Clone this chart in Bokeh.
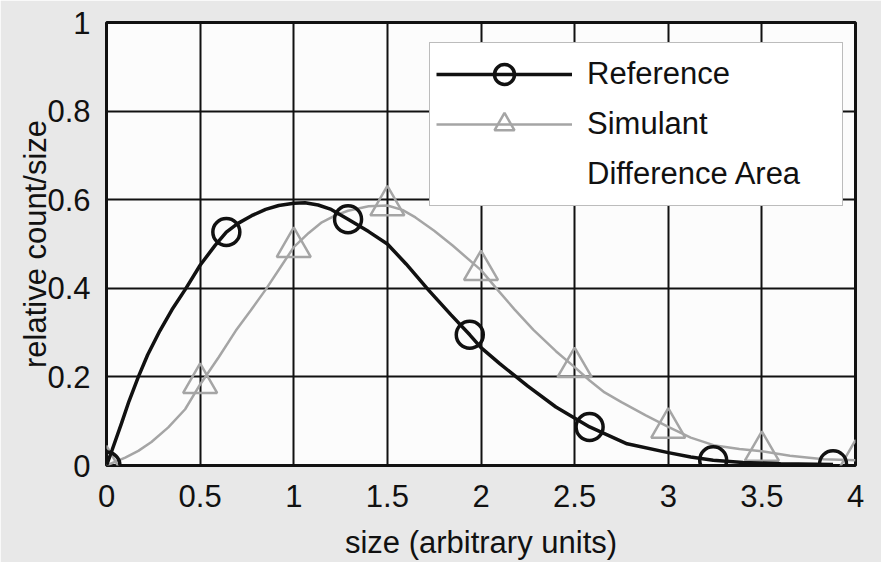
from bokeh.plotting import figure
from bokeh.models import FixedTicker, Legend, LegendItem, Range1d
from bokeh.embed import file_html
from bokeh.resources import INLINE

# ---- data ----
ref_curve_x = [0, 0.03, 0.08, 0.12, 0.17, 0.22, 0.285, 0.35, 0.42, 0.5, 0.58, 0.64, 0.7,
               0.775, 0.85, 0.92, 1.0, 1.06, 1.13, 1.2, 1.29, 1.4, 1.5, 1.6, 1.72, 1.84,
               1.94, 2.0, 2.1, 2.25, 2.4, 2.58, 2.78, 3.0, 3.12, 3.24, 3.4, 3.6, 3.88]
ref_curve_y = [0, 0.035, 0.095, 0.145, 0.2, 0.25, 0.304, 0.352, 0.397, 0.452, 0.497, 0.527,
               0.546, 0.564, 0.578, 0.587, 0.592, 0.593, 0.588, 0.578, 0.556, 0.528, 0.5,
               0.455, 0.396, 0.34, 0.295, 0.266, 0.23, 0.179, 0.132, 0.087, 0.049, 0.029,
               0.019, 0.012, 0.007, 0.004, 0.002]
ref_mark_x = [0, 0.64, 1.29, 1.94, 2.58, 3.24, 3.88]
ref_mark_y = [0, 0.527, 0.556, 0.295, 0.087, 0.012, 0.003]

sim_curve_x = [0, 0.1, 0.17, 0.24, 0.33, 0.42, 0.5, 0.6, 0.69, 0.77, 0.85, 0.93, 1.0, 1.08,
               1.15, 1.22, 1.29, 1.4, 1.5, 1.58, 1.65, 1.75, 1.85, 2.0, 2.09, 2.18, 2.28,
               2.4, 2.5, 2.58, 2.66, 2.75, 2.88, 3.0, 3.12, 3.25, 3.38, 3.5, 3.65, 3.83, 4.0]
sim_curve_y = [0, 0.018, 0.033, 0.053, 0.086, 0.127, 0.183, 0.245, 0.304, 0.35, 0.397, 0.448,
               0.493, 0.525, 0.549, 0.564, 0.575, 0.585, 0.587, 0.577, 0.56, 0.53, 0.496,
               0.441, 0.396, 0.352, 0.306, 0.258, 0.222, 0.192, 0.165, 0.143, 0.113, 0.087,
               0.063, 0.045, 0.037, 0.032, 0.022, 0.014, 0.012]
sim_mark_x = [0, 0.5, 1.0, 1.5, 2.0, 2.5, 3.0, 3.5, 4.0]
sim_mark_y = [0, 0.186, 0.493, 0.587, 0.441, 0.222, 0.085, 0.033, 0.013]

x_ticks = [0, 0.5, 1, 1.5, 2, 2.5, 3, 3.5, 4]
x_tick_labels = ["0", "0.5", "1", "1.5", "2", "2.5", "3", "3.5", "4"]
y_ticks = [0, 0.2, 0.4, 0.6, 0.8, 1]
y_tick_labels = ["0", "0.2", "0.4", "0.6", "0.8", "1"]

series_names = ["Reference", "Simulant", "Difference Area"]
x_title = "size (arbitrary units)"
y_title = "relative count/size"

FONT = "Liberation Sans"
FSIZE = "31px"
BLACK = "#111111"
GRAY = "#a5a5a5"

p = figure(width=881, height=562, output_backend="svg", toolbar_location=None,
           x_range=Range1d(0, 4), y_range=Range1d(0, 1),
           min_border_left=106, min_border_right=26, min_border_top=22, min_border_bottom=95)
p.border_fill_color = "#e8e8e8"
p.background_fill_color = "#fcfcfc"
p.outline_line_color = BLACK
p.outline_line_width = 3
p.outline_line_alpha = 1

# grid
p.xgrid.ticker = FixedTicker(ticks=x_ticks)
p.ygrid.ticker = FixedTicker(ticks=y_ticks)
for g in (p.xgrid, p.ygrid):
    g.grid_line_color = BLACK
    g.grid_line_width = 2
    g.grid_line_alpha = 1

# axes
p.xaxis.ticker = FixedTicker(ticks=x_ticks)
p.yaxis.ticker = FixedTicker(ticks=y_ticks)
p.xaxis.major_label_overrides = {t: l for t, l in zip(x_ticks, x_tick_labels)}
p.yaxis.major_label_overrides = {t: l for t, l in zip(y_ticks, y_tick_labels)}
p.xaxis.axis_label = x_title
p.yaxis.axis_label = y_title
for ax in (p.xaxis, p.yaxis):
    ax.axis_line_color = None
    ax.major_tick_line_color = None
    ax.minor_tick_line_color = None
    ax.major_tick_out = 0
    ax.major_tick_in = 0
    ax.major_label_text_font = FONT
    ax.major_label_text_font_size = FSIZE
    ax.major_label_text_color = BLACK
    ax.axis_label_text_font = FONT
    ax.axis_label_text_font_size = FSIZE
    ax.axis_label_text_font_style = "normal"
    ax.axis_label_text_color = BLACK
p.xaxis.major_label_standoff = 19
p.yaxis.major_label_standoff = 16
p.xaxis.axis_label_standoff = 15
p.yaxis.axis_label_standoff = -9

# difference area (not visibly filled in the picture)
diff_x = ref_curve_x + sim_curve_x[::-1]
diff_y = ref_curve_y + sim_curve_y[::-1]
r_diff = p.patch(diff_x, diff_y, fill_color="white", fill_alpha=0, line_alpha=0)

# simulant
r_sim_line = p.line(sim_curve_x, sim_curve_y, line_color=GRAY, line_width=2.5)
r_sim_mark = p.scatter(sim_mark_x, sim_mark_y, marker="triangle", size=34,
                       fill_alpha=0, line_color=GRAY, line_width=2.5)

# reference
r_ref_line = p.line(ref_curve_x, ref_curve_y, line_color=BLACK, line_width=3.5)
r_ref_mark = p.scatter(ref_mark_x, ref_mark_y, marker="circle", size=27,
                       fill_alpha=0, line_color=BLACK, line_width=3.5)

legend = Legend(items=[
    LegendItem(label=series_names[0], renderers=[r_ref_line, r_ref_mark]),
    LegendItem(label=series_names[1], renderers=[r_sim_line, r_sim_mark]),
    LegendItem(label=series_names[2], renderers=[r_diff]),
], location=(323, 259))
legend.margin = 0
legend.padding = 6
legend.spacing = 0
legend.glyph_width = 136
legend.glyph_height = 50
legend.label_height = 50
legend.label_width = 249
legend.label_standoff = 15
legend.label_text_font = FONT
legend.label_text_font_size = FSIZE
legend.label_text_color = BLACK
legend.border_line_color = "#7a7a7a"
legend.border_line_width = 1.5
legend.background_fill_color = "white"
legend.background_fill_alpha = 1
p.add_layout(legend)

open("out.html", "w").write(file_html(p, INLINE))
